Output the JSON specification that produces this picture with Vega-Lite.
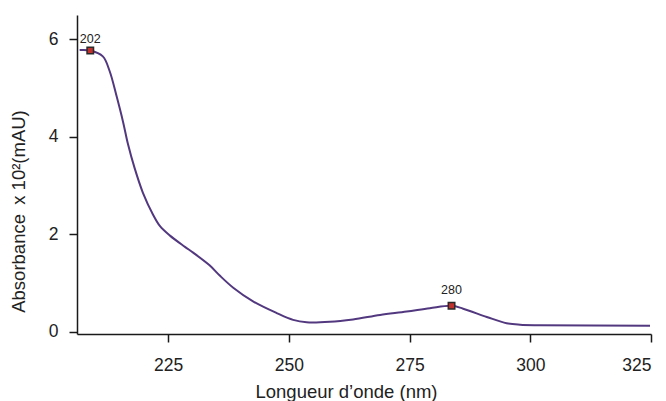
{
  "$schema": "https://vega.github.io/schema/vega-lite/v6.json",
  "autosize": {"type": "none"},
  "padding": {"left": 77, "top": 15, "right": 15, "bottom": 67},
  "width": 574,
  "height": 319,
  "background": "white",
  "config": {
    "view": {"stroke": null},
    "axis": {
      "grid": false,
      "domainColor": "#1a1a1a",
      "domainWidth": 1.5,
      "tickColor": "#1a1a1a",
      "tickWidth": 1.5,
      "tickSize": 8,
      "labelFont": "Liberation Sans",
      "labelFontSize": 17.5,
      "labelColor": "#222222",
      "titleFont": "Liberation Sans",
      "titleFontSize": 18.5,
      "titleFontWeight": "normal",
      "titleColor": "#222222"
    }
  },
  "datasets": {
    "spectrum": [
      {"wavelength": 206.7, "absorbance": 5.78},
      {"wavelength": 208.9, "absorbance": 5.77},
      {"wavelength": 211.5, "absorbance": 5.65},
      {"wavelength": 212.9, "absorbance": 5.35},
      {"wavelength": 214.3, "absorbance": 4.85},
      {"wavelength": 215.7, "absorbance": 4.30},
      {"wavelength": 216.7, "absorbance": 3.85},
      {"wavelength": 218.1, "absorbance": 3.35},
      {"wavelength": 219.8, "absorbance": 2.85},
      {"wavelength": 221.9, "absorbance": 2.40},
      {"wavelength": 223.3, "absorbance": 2.17},
      {"wavelength": 225.4, "absorbance": 1.97},
      {"wavelength": 228.5, "absorbance": 1.74},
      {"wavelength": 230.2, "absorbance": 1.62},
      {"wavelength": 233.6, "absorbance": 1.36},
      {"wavelength": 235.7, "absorbance": 1.15},
      {"wavelength": 238.5, "absorbance": 0.90},
      {"wavelength": 242.6, "absorbance": 0.62},
      {"wavelength": 247.5, "absorbance": 0.38},
      {"wavelength": 250.9, "absorbance": 0.24},
      {"wavelength": 253.7, "absorbance": 0.19},
      {"wavelength": 258.5, "absorbance": 0.20},
      {"wavelength": 263.3, "absorbance": 0.25},
      {"wavelength": 268.9, "absorbance": 0.34},
      {"wavelength": 274.4, "absorbance": 0.41},
      {"wavelength": 279.2, "absorbance": 0.48},
      {"wavelength": 283.7, "absorbance": 0.53},
      {"wavelength": 286.1, "absorbance": 0.47},
      {"wavelength": 291.0, "absorbance": 0.30},
      {"wavelength": 295.1, "absorbance": 0.17},
      {"wavelength": 297.9, "absorbance": 0.14},
      {"wavelength": 302.0, "absorbance": 0.13},
      {"wavelength": 324.8, "absorbance": 0.12}
    ],
    "peaks": [
      {"wavelength": 208.9, "absorbance": 5.77, "label": "202"},
      {"wavelength": 283.7, "absorbance": 0.53, "label": "280"}
    ]
  },
  "encoding": {
    "x": {
      "field": "wavelength",
      "type": "quantitative",
      "scale": {"domain": [206.15, 325], "nice": false, "zero": false},
      "axis": {
        "values": [225, 250, 275, 300, 325],
        "title": "Longueur d’onde (nm)",
        "labelPadding": 14,
        "titleX": 269,
        "titleY": 63,
        "titleAlign": "center",
        "titleBaseline": "alphabetic",
        "titleAnchor": null
      }
    },
    "y": {
      "field": "absorbance",
      "type": "quantitative",
      "scale": {"domain": [-0.05, 6.5], "nice": false, "zero": false},
      "axis": {
        "values": [0, 2, 4, 6],
        "title": "Absorbance\u2002x 10²(mAU)",
        "labelPadding": 11,
        "titleAngle": -90,
        "titleX": -59,
        "titleY": 196,
        "titleAlign": "center",
        "titleBaseline": "middle"
      }
    }
  },
  "layer": [
    {
      "data": {"name": "spectrum"},
      "mark": {"type": "line", "interpolate": "catmull-rom", "color": "#52387f", "strokeWidth": 2}
    },
    {
      "data": {"name": "peaks"},
      "mark": {"type": "square", "size": 42, "filled": true, "color": "#c0302c", "stroke": "#2a2a2a", "strokeWidth": 1.5, "opacity": 1}
    },
    {
      "data": {"name": "peaks"},
      "transform": [{"filter": "datum.label == '202'"}],
      "mark": {"type": "text", "font": "Liberation Sans", "fontSize": 12.5, "color": "#222222", "baseline": "alphabetic", "align": "center", "dy": -8},
      "encoding": {"text": {"field": "label"}}
    },
    {
      "data": {"name": "peaks"},
      "transform": [{"filter": "datum.label == '280'"}],
      "mark": {"type": "text", "font": "Liberation Sans", "fontSize": 12.5, "color": "#222222", "baseline": "alphabetic", "align": "center", "dy": -12},
      "encoding": {"text": {"field": "label"}}
    }
  ]
}
